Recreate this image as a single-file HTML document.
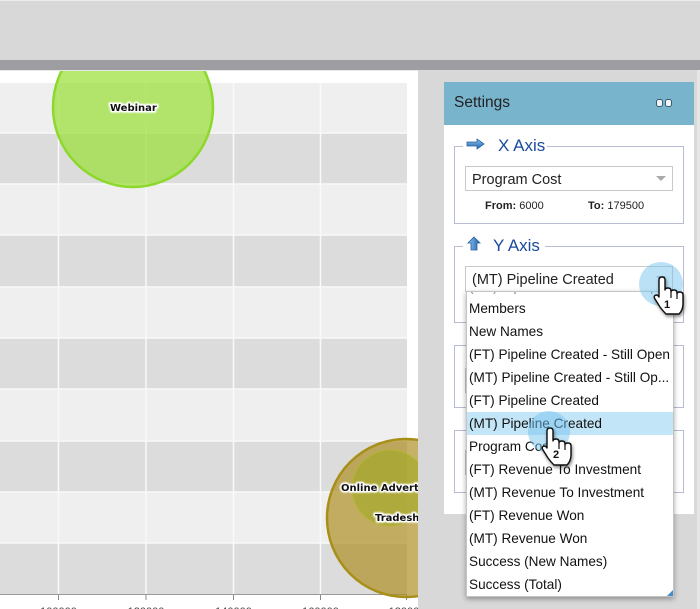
<!DOCTYPE html>
<html><head><meta charset="utf-8">
<style>
html,body{margin:0;padding:0;width:700px;height:609px;overflow:hidden;background:#d8d8d8;font-family:"Liberation Sans",sans-serif;}
.abs{position:absolute;}
#top{left:0;top:0;width:700px;height:60px;background:#d8d8d8;border-top:1px solid #ececec;box-sizing:border-box;}
#bar{left:0;top:60px;width:700px;height:10px;background:#9e9da2;}
#edge{left:697px;top:70px;width:3px;height:539px;background:#e6e6e6;}
#panel{left:444px;top:82px;width:250px;height:432px;background:#fff;}
#hdr{left:444px;top:82px;width:250px;height:43px;background:#79b4cd;}
#hdr span{position:absolute;left:10px;top:12px;font-size:15.5px;color:#222;}
.fs{position:absolute;border:1px solid #b9bdd4;box-sizing:border-box;}
.leg{position:absolute;background:#fff;color:#1b4a9c;font-size:17px;line-height:20px;padding:0 2px;}
.sel{position:absolute;border:1px solid #c9c9c9;background:#fff;box-sizing:border-box;font-size:14.5px;color:#222;}
.sel span{position:absolute;left:6px;top:5px;}
.arr{position:absolute;width:0;height:0;border-left:5px solid transparent;border-right:5px solid transparent;border-top:5px solid #aaa;}
#list{left:466px;top:291px;width:208px;height:306px;background:#fff;border:1px solid #c4c4c4;box-sizing:border-box;box-shadow:0 2px 5px rgba(0,0,0,0.35);overflow:hidden;}
.it{position:absolute;left:0;width:206px;height:23px;line-height:23px;font-size:13.6px;color:#111;padding-left:2px;box-sizing:border-box;white-space:nowrap;}
.ft{position:absolute;font-size:11px;color:#222;}
</style></head>
<body>
<div id="top" class="abs"></div>
<div id="bar" class="abs"></div>
<div id="edge" class="abs"></div>

<svg class="abs" style="left:0;top:0" width="700" height="609" viewBox="0 0 700 609">
<defs>
<clipPath id="cc"><rect x="0" y="71" width="418" height="538"/></clipPath>
<filter id="gl" x="-20%" y="-50%" width="140%" height="200%"><feGaussianBlur stdDeviation="0.9"/></filter>
</defs>
<rect x="0" y="70" width="418" height="539" fill="#fff"/>
<rect x="0" y="70" width="418" height="1" fill="#e8e8e8"/>
<g clip-path="url(#cc)">
<rect x="0" y="83" width="407" height="50" fill="#efefef"/>
<rect x="0" y="133" width="407" height="51" fill="#dcdcdc"/>
<rect x="0" y="184" width="407" height="51" fill="#efefef"/>
<rect x="0" y="235" width="407" height="52" fill="#dcdcdc"/>
<rect x="0" y="287" width="407" height="51" fill="#efefef"/>
<rect x="0" y="338" width="407" height="51" fill="#dcdcdc"/>
<rect x="0" y="389" width="407" height="52" fill="#efefef"/>
<rect x="0" y="441" width="407" height="51" fill="#dcdcdc"/>
<rect x="0" y="492" width="407" height="51" fill="#efefef"/>
<rect x="0" y="543" width="407" height="52" fill="#dcdcdc"/>
<g stroke="#f9f9f9" stroke-width="1.5">
<line x1="0" y1="133" x2="407" y2="133"/><line x1="0" y1="184" x2="407" y2="184"/>
<line x1="0" y1="235" x2="407" y2="235"/><line x1="0" y1="287" x2="407" y2="287"/>
<line x1="0" y1="338" x2="407" y2="338"/><line x1="0" y1="389" x2="407" y2="389"/>
<line x1="0" y1="441" x2="407" y2="441"/><line x1="0" y1="492" x2="407" y2="492"/>
<line x1="0" y1="543" x2="407" y2="543"/>
<line x1="58.5" y1="83" x2="58.5" y2="595"/><line x1="146" y1="83" x2="146" y2="595"/>
<line x1="233.5" y1="83" x2="233.5" y2="595"/><line x1="320.5" y1="83" x2="320.5" y2="595"/>
</g>
<line x1="0" y1="594.5" x2="407" y2="594.5" stroke="#999" stroke-width="1"/>
<g stroke="#888" stroke-width="1">
<line x1="58.5" y1="595" x2="58.5" y2="600"/><line x1="146" y1="595" x2="146" y2="600"/>
<line x1="233.5" y1="595" x2="233.5" y2="600"/><line x1="320.5" y1="595" x2="320.5" y2="600"/>
<line x1="406.5" y1="595" x2="406.5" y2="600"/>
</g>
<g font-family="Liberation Sans, sans-serif" font-size="11" fill="#444" text-anchor="middle">
<text x="58.5" y="615">100000</text><text x="146" y="615">120000</text>
<text x="233.5" y="615">140000</text><text x="320.5" y="615">160000</text><text x="407" y="615">180000</text>
</g>
<circle cx="133" cy="107" r="80" fill="rgba(153,223,51,0.7)" stroke="#8cd82c" stroke-width="2.5"/>
<circle cx="406" cy="518" r="79" fill="rgba(172,140,30,0.68)" stroke="#a88f17" stroke-width="2.5"/>
<circle cx="390" cy="488" r="38" fill="rgba(160,168,35,0.6)" stroke="rgba(180,185,50,0.6)" stroke-width="1.5"/>
<g font-family="DejaVu Sans, Verdana, sans-serif" font-weight="bold" font-size="10">
<g fill="#fff" stroke="#fff" stroke-width="3.5" stroke-linejoin="round" filter="url(#gl)">
<text x="110" y="111">Webinar</text>
<text x="341" y="491">Online Advertising</text>
<text x="375" y="521">Tradeshow</text>
</g>
<g fill="#fff" stroke="#fff" stroke-width="2" stroke-linejoin="round">
<text x="110" y="111">Webinar</text>
<text x="341" y="491">Online Advertising</text>
<text x="375" y="521">Tradeshow</text>
</g>
<g fill="#111">
<text x="110" y="111">Webinar</text>
<text x="341" y="491">Online Advertising</text>
<text x="375" y="521">Tradeshow</text>
</g>
</g>
</g>
</svg>

<div id="panel" class="abs"></div>
<div id="hdr" class="abs"><span>Settings</span>
<svg class="abs" style="left:211px;top:15px" width="20" height="12" viewBox="0 0 20 12">
<rect x="1.5" y="2.5" width="6" height="7" rx="2" fill="#eef4f8" stroke="#3d5c70" stroke-width="1"/>
<rect x="10.5" y="2.5" width="6" height="7" rx="2" fill="#eef4f8" stroke="#3d5c70" stroke-width="1"/>
</svg>
</div>

<!-- X axis fieldset -->
<div class="fs" style="left:454px;top:146px;width:230px;height:78px;"></div>
<div class="leg" style="left:463px;top:136px;width:80px;height:20px;"></div>
<svg class="abs" style="left:466px;top:138px" width="20" height="12" viewBox="0 0 20 12">
<defs><linearGradient id="bl" x1="0" y1="0" x2="0" y2="1"><stop offset="0" stop-color="#8cc8f0"/><stop offset="1" stop-color="#1f5fb0"/></linearGradient></defs>
<polygon points="1,4 11,4 11,1 18,6 11,11 11,8 1,8" fill="url(#bl)" stroke="#2a5e9e" stroke-width="0.8"/>
</svg>
<div class="leg" style="left:496px;top:136px;">X Axis</div>
<div class="sel" style="left:465px;top:166px;width:208px;height:25px;"><span>Program Cost</span><div class="arr" style="left:190px;top:9px;"></div></div>
<div class="ft" style="left:485px;top:200px;"><b>From:</b> 6000</div>
<div class="ft" style="left:588px;top:200px;"><b>To:</b> 179500</div>

<!-- Y axis fieldset -->
<div class="fs" style="left:454px;top:246px;width:230px;height:77px;"></div>
<div class="leg" style="left:463px;top:236px;width:78px;height:20px;"></div>
<svg class="abs" style="left:467px;top:236px" width="16" height="16" viewBox="0 0 16 16">
<defs><linearGradient id="bl2" x1="0" y1="0" x2="1" y2="0"><stop offset="0" stop-color="#8cc8f0"/><stop offset="1" stop-color="#1f5fb0"/></linearGradient></defs>
<polygon points="7,1 13,7 10,7 10,14 4,14 4,7 1,7" fill="url(#bl2)" stroke="#2a5e9e" stroke-width="0.8"/>
</svg>
<div class="leg" style="left:491px;top:236px;">Y Axis</div>
<div class="sel" style="left:465px;top:266px;width:208px;height:26px;"><span>(MT) Pipeline Created</span><div class="arr" style="left:190px;top:9px;"></div></div>

<!-- other fieldsets behind list -->
<div class="fs" style="left:454px;top:345px;width:230px;height:63px;"></div>
<div class="sel" style="left:465px;top:368px;width:208px;height:25px;"></div>
<div class="fs" style="left:454px;top:430px;width:230px;height:63px;"></div>
<div class="sel" style="left:465px;top:450px;width:208px;height:25px;"></div>

<!-- dropdown list -->
<div id="list" class="abs">
<div class="it" style="top:-17px;color:#888;">(MT) Pipeline Created - Still Open</div>
<div class="it" style="top:5px;">Members</div>
<div class="it" style="top:28px;">New Names</div>
<div class="it" style="top:51px;">(FT) Pipeline Created - Still Open</div>
<div class="it" style="top:74px;">(MT) Pipeline Created - Still Op...</div>
<div class="it" style="top:97px;">(FT) Pipeline Created</div>
<div class="it" style="top:120px;background:#c2e5f7;">(MT) Pipeline Created</div>
<div class="it" style="top:143px;">Program Cost</div>
<div class="it" style="top:166px;">(FT) Revenue To Investment</div>
<div class="it" style="top:189px;">(MT) Revenue To Investment</div>
<div class="it" style="top:212px;">(FT) Revenue Won</div>
<div class="it" style="top:235px;">(MT) Revenue Won</div>
<div class="it" style="top:258px;">Success (New Names)</div>
<div class="it" style="top:281px;">Success (Total)</div>
<svg class="abs" style="left:200px;top:298px" width="6" height="6"><polygon points="6,0 6,6 0,6" fill="#3f8fd0"/></svg>
</div>

<!-- cursors -->
<svg class="abs" style="left:0;top:0" width="700" height="609" viewBox="0 0 700 609">
<defs>
<filter id="sh" x="-30%" y="-30%" width="160%" height="160%"><feDropShadow dx="1" dy="2" stdDeviation="1.5" flood-color="#000" flood-opacity="0.45"/></filter>
<g id="hand">
<path d="M5,3 Q5,0 8,0 Q11,0 11,3 L11,13 Q11,11 14,11 Q17,11 17,14 L17,15 Q17,13 20,13 Q23,13 23,16 L23,17 Q23,15 26,15 Q29,15 29,18 L29,27 Q29,33 25,37 L12,37 Q9,34 6,30 L1,22 Q-1,19 2,18 Q4,18 5,20 Z" fill="#fff" stroke="#111" stroke-width="1.4" stroke-linejoin="round"/>
<path d="M17,15 L17,21 M23,17 L23,22" stroke="#111" stroke-width="1.2" fill="none"/>
</g>
</defs>
<circle cx="661" cy="284" r="22" fill="rgba(120,195,240,0.5)"/>
<circle cx="549" cy="432" r="21" fill="rgba(120,195,240,0.5)"/>
<g transform="translate(654,277)" filter="url(#sh)"><use href="#hand"/></g>
<text x="667" y="308" font-family="Liberation Sans, sans-serif" font-weight="bold" font-size="11" fill="#111" text-anchor="middle">1</text>
<g transform="translate(542,428)" filter="url(#sh)"><use href="#hand"/></g>
<text x="556" y="458" font-family="Liberation Sans, sans-serif" font-weight="bold" font-size="11" fill="#111" text-anchor="middle">2</text>
</svg>
</body></html>
